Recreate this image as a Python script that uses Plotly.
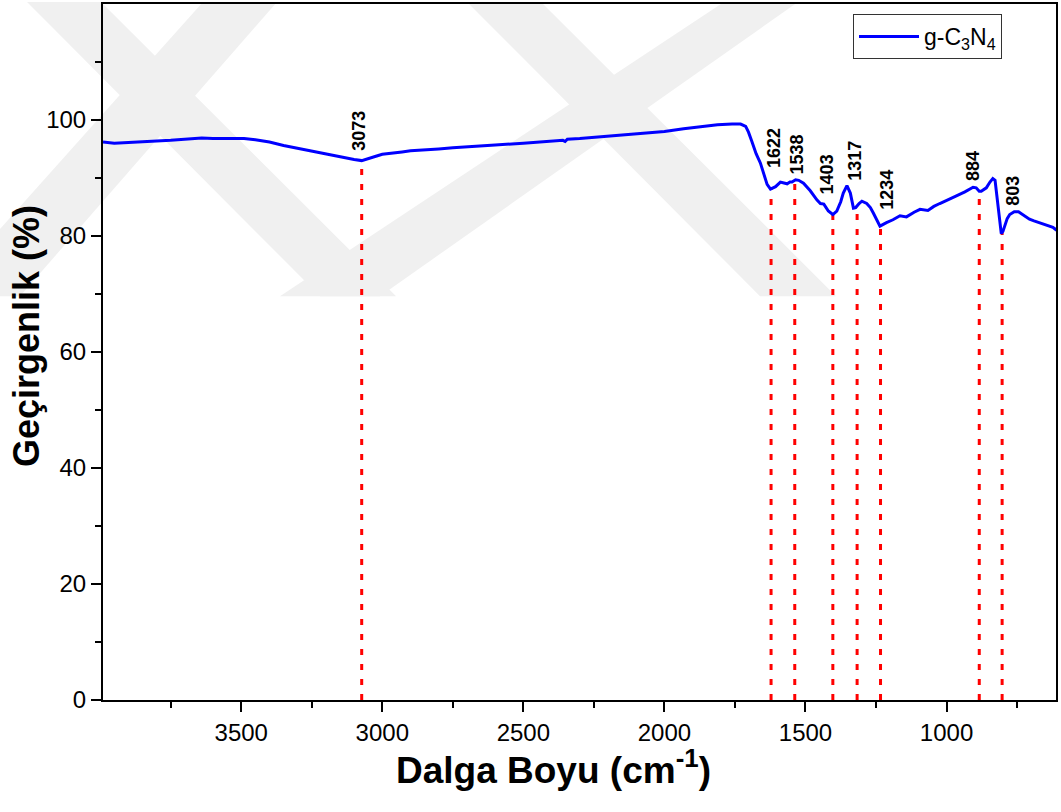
import numpy as np
import plotly.graph_objects as go

# ---- data ----
wavenumber = [3990, 3950, 3900, 3850, 3800, 3750, 3700, 3640, 3600, 3550, 3490, 3450, 3400, 3350,
              3300, 3250, 3200, 3150, 3100, 3073, 3050, 3020, 3000, 2960, 2930, 2900, 2850, 2800,
              2750, 2700, 2600, 2500, 2400, 2360, 2352, 2344, 2300, 2200, 2108, 2000, 1932, 1870, 1812, 1760,
              1730, 1712, 1702, 1690, 1675, 1660, 1645, 1636, 1624, 1606, 1589, 1575, 1565, 1555,
              1548, 1535, 1524, 1507, 1483, 1459, 1447, 1435, 1419, 1403, 1389, 1375, 1366, 1353,
              1341, 1330, 1322, 1310, 1300, 1283, 1270, 1260, 1243, 1236, 1213, 1190, 1165, 1142,
              1115, 1094, 1066, 1045, 1024, 995, 965, 935, 906, 895, 884, 877, 859, 846, 836, 828,
              820, 812, 806, 800, 794, 785, 776, 760, 745, 729, 706, 690, 670, 645, 623, 610]
transmittance = [96.2, 96.0, 96.1, 96.3, 96.4, 96.5, 96.7, 96.9, 96.8, 96.8, 96.8, 96.6, 96.2, 95.6,
                 95.1, 94.6, 94.1, 93.6, 93.2, 93.0, 93.3, 93.8, 94.1, 94.4, 94.5, 94.7, 94.8, 95.0,
                 95.2, 95.4, 95.7, 96.0, 96.4, 96.5, 96.3, 96.7, 96.8, 97.2, 97.5, 98.0, 98.5, 98.9, 99.2, 99.3,
                 99.3, 98.9, 97.9, 96.3, 94.2, 92.6, 90.4, 88.9, 88.1, 88.5, 89.3, 89.1, 89.0, 89.3,
                 89.3, 89.7, 89.6, 89.1, 87.8, 86.2, 85.6, 85.5, 84.3, 83.7, 84.3, 85.9, 87.4, 88.7,
                 87.4, 84.8, 84.9, 85.6, 86.0, 85.6, 84.9, 84.0, 82.3, 81.7, 82.3, 82.8, 83.5, 83.3,
                 84.1, 84.6, 84.4, 85.1, 85.6, 86.2, 86.9, 87.6, 88.4, 88.3, 87.7, 87.7, 88.3, 89.3,
                 89.9, 89.6, 86.5, 82.9, 80.4, 80.8, 81.6, 83.0, 83.7, 84.2, 84.2, 83.7, 82.9, 82.6,
                 82.3, 81.9, 81.5, 81.0]

peaks = [3073, 1622, 1538, 1403, 1317, 1234, 884, 803]
peak_labels = ["3073", "1622", "1538", "1403", "1317", "1234", "884", "803"]
label_y = [94.3, 91.4, 90.2, 86.8, 89.2, 84.1, 89.2, 84.9]
label_dx = [-3, 3, 2, -6, -2, 7, -7, 10]

x_ticks = [3500, 3000, 2500, 2000, 1500, 1000]
x_minor = [3750, 3250, 2750, 2250, 1750, 1250, 750]
y_ticks = [0, 20, 40, 60, 80, 100]
y_minor = [10, 30, 50, 70, 90, 110]

# ---- figure ----
W, H = 1061, 812
L, R, T, B = 103, 5, 2, 112
pw, ph = W - L - R, H - T - B

def px2paper(px, py):
    return (px - L) / pw, (H - B - py) / ph

fig = go.Figure()

xs = np.array(wavenumber)[::-1]
ys = np.array(transmittance)[::-1]
for p in peaks:
    top = float(np.interp(p, xs, ys))
    fig.add_trace(go.Scatter(x=[p, p], y=[0, top], mode="lines", showlegend=False,
                             line=dict(color="#ff0000", width=3, dash="6px,9px"),
                             hoverinfo="skip"))

fig.add_trace(go.Scatter(x=wavenumber, y=transmittance, mode="lines",
                         name="g-C<sub>3</sub>N<sub>4</sub>",
                         line=dict(color="#0000ff", width=3)))

for p, t, ly, dx in zip(peaks, peak_labels, label_y, label_dx):
    fig.add_annotation(x=p, y=ly, text="<b>%s</b>" % t, textangle=-90, showarrow=False,
                       xanchor="center", yanchor="bottom", xshift=dx,
                       font=dict(family="Liberation Sans, Arial", size=18, color="black"))

# faint background watermark bands (pixel polygons -> paper)
bands = [
    [(467, 0), (541, 0), (836, 295), (760, 295)],
    [(724, 0), (798, 0), (380, 295), (280, 295)],
    [(27, 0), (101, 0), (396, 295), (320, 295)],
    [(203, 0), (277, 0), (20, 295), (-60, 295)],
]
for poly in bands:
    pts = [px2paper(x, y) for x, y in poly]
    path = "M " + " L ".join("%.4f,%.4f" % pt for pt in pts) + " Z"
    fig.add_shape(type="path", path=path, xref="paper", yref="paper",
                  fillcolor="#f0f0f0", line=dict(width=0), layer="below")

fig.add_annotation(x=px2paper(553, 0)[0], y=px2paper(0, 768)[1], xref="paper", yref="paper",
                   text="<b>Dalga Boyu (cm<sup>-1</sup>)</b>", showarrow=False,
                   xanchor="center", yanchor="middle",
                   font=dict(family="Liberation Sans, Arial", size=37, color="black"))
fig.add_annotation(x=px2paper(26, 0)[0], y=px2paper(0, 335)[1], xref="paper", yref="paper",
                   text="<b>Geçirgenlik (%)</b>", showarrow=False, textangle=-90,
                   xanchor="center", yanchor="middle",
                   font=dict(family="Liberation Sans, Arial", size=36, color="black"))

axis_common = dict(showline=True, linecolor="black", linewidth=2, mirror=True,
                   ticks="outside", tickcolor="black", tickwidth=2, ticklen=10,
                   showgrid=False, zeroline=False,
                   tickfont=dict(family="Liberation Sans, Arial", size=24, color="black"))

fig.update_xaxes(range=[3990, 612], tickvals=x_ticks,
                 minor=dict(tickvals=x_minor, ticks="outside", ticklen=6, tickwidth=2,
                            tickcolor="black", showgrid=False),
                 **axis_common)
fig.update_yaxes(range=[0, 120], tickvals=y_ticks,
                 minor=dict(tickvals=y_minor, ticks="outside", ticklen=6, tickwidth=2,
                            tickcolor="black", showgrid=False),
                 **axis_common)

fig.update_layout(
    width=W, height=H,
    margin=dict(l=L, r=R, t=T, b=B, pad=0),
    paper_bgcolor="white", plot_bgcolor="rgba(0,0,0,0)",
    showlegend=True,
    legend=dict(x=px2paper(853, 0)[0], y=px2paper(0, 12)[1], xanchor="left", yanchor="top",
                bordercolor="#333333", borderwidth=1, bgcolor="white",
                font=dict(family="Liberation Sans, Arial", size=23, color="black"),
                itemwidth=60),
)

fig.write_html("out.html")
